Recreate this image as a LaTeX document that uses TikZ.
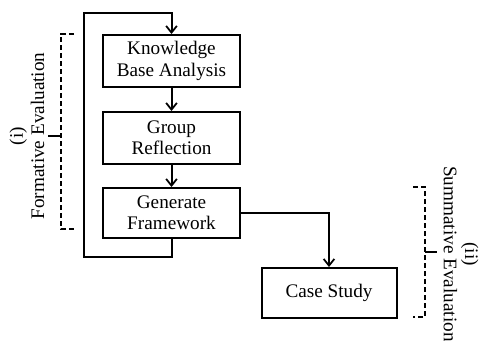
\documentclass[tikz,border=0pt]{standalone}
\usepackage{fontspec}
\setmainfont{Liberation Serif}
\usetikzlibrary{arrows.meta}
\begin{document}
\begin{tikzpicture}[x=0.75pt,y=-0.75pt,
  font=\fontsize{14.4}{16}\selectfont,
  stepbox/.style={draw,line width=1.5pt,align=center,inner sep=0pt},
  flow/.style={line width=1.5pt,-{Straight Barb[length=5pt,width=8pt,line width=1.3pt]}},
  bracket/.style={line width=1.3pt,dash pattern=on 4pt off 2pt},
  tick/.style={line width=1.3pt},
  side/.style={align=center,inner sep=0pt}]
\useasboundingbox (0,0) rectangle (481,340);

% process steps
\node[stepbox,minimum width=137*0.75pt,minimum height=52*0.75pt] (kba) at (171.5,61) {Knowledge\\Base Analysis};
\node[stepbox,minimum width=137*0.75pt,minimum height=52*0.75pt] (gr) at (171.5,138) {Group\\Reflection};
\node[stepbox,minimum width=137*0.75pt,minimum height=50*0.75pt] (gf) at (171.5,213) {Generate\\Framework};
\node[stepbox,minimum width=135*0.75pt,minimum height=50*0.75pt] (cs) at (329,293) {Case Study};

% feedback loop corners
\coordinate (lb) at (84,257);
\coordinate (lt) at (84,13);

% connectors
\draw[flow] (kba) -- (gr);
\draw[flow] (gr) -- (gf);
\draw[flow] (gf.east) -| (cs.north);
\draw[flow] (gf.south) |- (lb) -- (lt) -| (kba.north);

% formative bracket
\coordinate (fa) at (74,34);
\coordinate (fb) at (61,34);
\coordinate (fc) at (61,229);
\coordinate (fd) at (74,229);
\coordinate (fm) at (61,136);
\coordinate (ft) at (48,136);
\draw[bracket] (fa) -- (fb) -- (fc) -- (fd);
\draw[tick] (fm) -- (ft);
\node[side,rotate=90] (form) at (27,136) {(i)\\Formative Evaluation};

% summative bracket
\coordinate (sa) at (413,187);
\coordinate (sb) at (425,187);
\coordinate (sc) at (425,317);
\coordinate (sd) at (413,317);
\coordinate (sm) at (425,252);
\coordinate (st) at (437,252);
\draw[bracket] (sa) -- (sb) -- (sc) -- (sd);
\draw[tick] (sm) -- (st);
\node[side,rotate=-90] (summ) at (461,254) {(ii)\\Summative Evaluation};
\end{tikzpicture}
\end{document}
